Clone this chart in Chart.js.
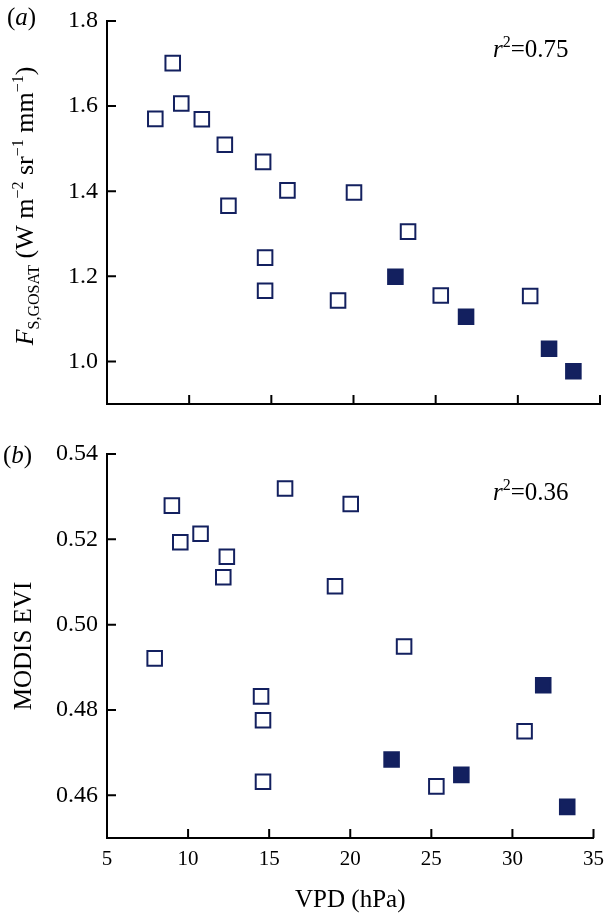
<!DOCTYPE html>
<html>
<head>
<meta charset="utf-8">
<script src="https://cdn.jsdelivr.net/npm/chart.js@4.4.1/dist/chart.umd.min.js"></script>
<style>
  body { margin: 0; background: #fff; }
  #wrap { position: relative; width: 613px; height: 917px; }
  canvas { position: absolute; left: 0; }
  #top { top: 0; }
  #bottom { top: 440px; }
</style>
</head>
<body>
<div id="wrap">
  <canvas id="top" width="613" height="440"></canvas>
  <canvas id="bottom" width="613" height="477"></canvas>
</div>
<script>
// open squares
const vpdOpen = [7.94, 9.0, 9.52, 10.77, 12.17, 12.39, 14.5, 14.62, 14.62, 15.98, 19.06, 20.03, 23.32, 25.31, 30.75];
const sifOpen = [1.570, 1.701, 1.606, 1.569, 1.509, 1.366, 1.469, 1.244, 1.166, 1.402, 1.143, 1.397, 1.305, 1.155, 1.154];
const eviOpen = [0.4921, 0.5279, 0.5193, 0.5213, 0.5111, 0.5159, 0.4832, 0.4776, 0.4632, 0.5319, 0.509, 0.5283, 0.4949, 0.4621, 0.475];

// filled squares
const vpdFilled = [22.55, 26.85, 31.9, 33.38];
const sifFilled = [1.199, 1.105, 1.030, 0.977];
const eviFilled = [0.4684, 0.4648, 0.4858, 0.4573];

// axis ticks
const xTicks = [5, 10, 15, 20, 25, 30, 35];
const sifTicks = [1.0, 1.2, 1.4, 1.6, 1.8];
const eviTicks = [0.46, 0.48, 0.50, 0.52, 0.54];

const navy = '#13205f';
const serif = "'Liberation Serif', 'Times New Roman', serif";

function toPoints(xs, ys) {
    return xs.map((x, i) => ({ x: x, y: ys[i] }));
}

// draw a run of text pieces (italic / sub / superscript), optionally rotated
function drawRich(ctx, parts, x, y, rotate, center) {
    ctx.save();
    ctx.translate(x, y);
    if (rotate) ctx.rotate(-Math.PI / 2);
    ctx.fillStyle = '#000';
    ctx.textBaseline = 'alphabetic';
    ctx.textAlign = 'left';
    const fontOf = p => (p[1] ? 'italic ' : 'normal ') + p[2] + 'px ' + serif;
    let total = 0;
    parts.forEach(p => { ctx.font = fontOf(p); total += ctx.measureText(p[0]).width; });
    let pos = center ? -total / 2 : 0;
    parts.forEach(p => {
        ctx.font = fontOf(p);
        ctx.fillText(p[0], pos, p[3]);
        pos += ctx.measureText(p[0]).width;
    });
    ctx.restore();
}

// text per panel: [text, italic, size, baseline shift]
const panelText = {
    top: {
        panel: [['(', false, 25, 0], ['a', true, 25, 0], [')', false, 25, 0]],
        panelX: 7, panelY: 25,
        r2: [['r', true, 25, 0], ['2', false, 16, -10], ['=0.75', false, 25, 0]],
        r2Y: 57,
        yTitle: [
            ['F', true, 26, 0],
            ['S,GOSAT', false, 16, 6],
            [' (W m', false, 26, 0],
            ['\u22122', false, 16, -10],
            [' sr', false, 26, 0],
            ['\u22121', false, 16, -10],
            [' mm', false, 26, 0],
            ['\u22121', false, 16, -10],
            [')', false, 26, 0]
        ],
        yTitleY: 206
    },
    bottom: {
        panel: [['(', false, 25, 0], ['b', true, 25, 0], [')', false, 25, 0]],
        panelX: 3, panelY: 23,
        r2: [['r', true, 25, 0], ['2', false, 16, -10], ['=0.36', false, 25, 0]],
        r2Y: 60
    }
};

// inward tick marks + panel text
const decorPlugin = {
    id: 'decor',
    afterDraw(chart) {
        const { ctx, chartArea, scales } = chart;
        ctx.save();
        ctx.strokeStyle = '#000';
        ctx.lineWidth = 2;
        ctx.beginPath();
        scales.x.ticks.forEach(t => {
            const px = scales.x.getPixelForValue(t.value);
            if (px <= chartArea.left + 2) return;
            ctx.moveTo(px, chartArea.bottom);
            ctx.lineTo(px, chartArea.bottom - 9);
        });
        scales.y.ticks.forEach(t => {
            const py = scales.y.getPixelForValue(t.value);
            ctx.moveTo(chartArea.left, py);
            ctx.lineTo(chartArea.left + 9, py);
        });
        ctx.stroke();
        ctx.restore();

        const cfg = panelText[chart.canvas.id];
        drawRich(ctx, cfg.panel, cfg.panelX, cfg.panelY, false, false);
        drawRich(ctx, cfg.r2, 493, cfg.r2Y, false, false);
        if (cfg.yTitle) drawRich(ctx, cfg.yTitle, 33, cfg.yTitleY, true, true);
    }
};

const pointStyle = {
    pointStyle: 'rect',
    pointRadius: 10.3,
    pointHoverRadius: 10.3,
    borderWidth: 2,
    borderColor: navy
};

function makeChart(id, openY, filledY, yTicks, yMin, yMax, digits, extra) {
    const showX = extra.showX;
    return new Chart(document.getElementById(id), {
        type: 'scatter',
        data: {
            datasets: [
                Object.assign({ data: toPoints(vpdOpen, openY), backgroundColor: '#fff' }, pointStyle),
                Object.assign({ data: toPoints(vpdFilled, filledY), backgroundColor: navy }, pointStyle)
            ]
        },
        plugins: [decorPlugin],
        options: {
            responsive: false,
            animation: false,
            devicePixelRatio: 1,
            layout: { padding: { top: extra.padTop, right: 13, left: 0, bottom: 0 } },
            plugins: {
                legend: { display: false },
                tooltip: { enabled: false }
            },
            scales: {
                x: {
                    type: 'linear',
                    min: 5,
                    max: 35,
                    afterBuildTicks: s => { s.ticks = xTicks.map(v => ({ value: v })); },
                    afterFit: s => { s.height = extra.xHeight; },
                    grid: { display: false, drawTicks: false },
                    border: { display: true, color: '#000', width: 2 },
                    ticks: {
                        display: showX,
                        padding: 9,
                        color: '#000',
                        font: { family: serif, size: 21 }
                    },
                    title: {
                        display: showX,
                        text: 'VPD (hPa)',
                        color: '#000',
                        font: { family: serif, size: 25 },
                        padding: { top: 0, bottom: 2 }
                    }
                },
                y: {
                    type: 'linear',
                    min: yMin,
                    max: yMax,
                    afterBuildTicks: s => { s.ticks = yTicks.map(v => ({ value: v })); },
                    afterFit: s => {
                        s.width = 107;
                        // keep the plot top where the layout padding puts it
                        s.paddingTop = 0;
                        s.paddingBottom = 0;
                    },
                    grid: { display: false, drawTicks: false },
                    border: { display: true, color: '#000', width: 2 },
                    ticks: {
                        padding: 9,
                        color: '#000',
                        font: { family: serif, size: 24 },
                        callback: v => Number(v).toFixed(digits)
                    },
                    title: {
                        display: !!extra.yTitleText,
                        text: extra.yTitleText || '',
                        color: '#000',
                        font: { family: serif, size: 25 },
                        padding: { top: 9, bottom: 0 }
                    }
                }
            }
        }
    });
}

makeChart('top', sifOpen, sifFilled, sifTicks, 0.9, 1.8, 1, {
    showX: false,
    padTop: 21,
    xHeight: 36
});

makeChart('bottom', eviOpen, eviFilled, eviTicks, 0.45, 0.54, 2, {
    showX: true,
    padTop: 14,
    xHeight: 79,
    yTitleText: 'MODIS EVI'
});
</script>
</body>
</html>
